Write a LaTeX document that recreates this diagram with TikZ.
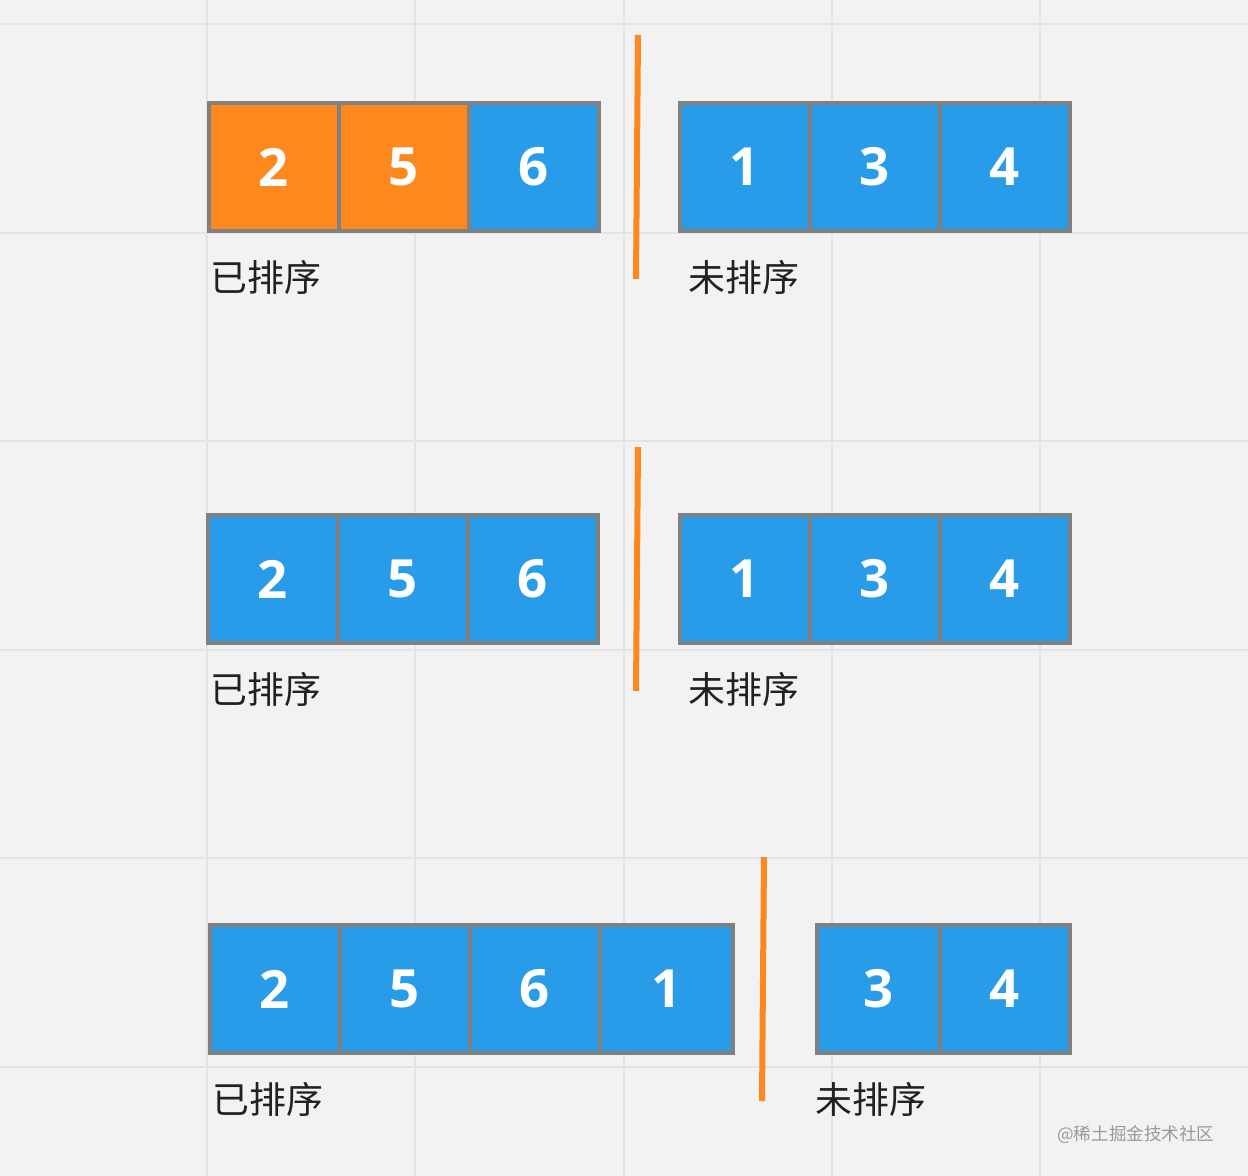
\documentclass[tikz,border=0pt]{standalone}
\usepackage{fontspec}
\setmainfont{Open Sans}
\newfontfamily\cjk{Noto Sans CJK SC}
\usetikzlibrary{positioning}
\definecolor{bgcol}{HTML}{F2F2F2}
\definecolor{gridcol}{HTML}{E4E4E4}
\definecolor{cellblue}{HTML}{289CE9}
\definecolor{cellorange}{HTML}{FD881E}
\definecolor{cellborder}{HTML}{808080}
\begin{document}
\begin{tikzpicture}[x=0.02cm, y=-0.02cm]
		%define block styles
		\tikzset{
			cell/.style={rectangle, minimum width=2.6cm, minimum height=2.56cm, inner sep=0pt, outer sep=0pt, draw=cellborder, line width=0.08cm, fill=cellblue, text=white, font=\fontsize{30}{30}\selectfont\bfseries},
			picked/.style={cell, fill=cellorange},
			tag/.style={anchor=west, inner sep=0pt, text=black!87, font=\cjk\fontsize{21}{21}\selectfont},
			divider/.style={draw=cellorange, line width=0.12cm},
			gridline/.style={draw=gridcol, line width=0.04cm},}
		%background and grid
		\fill[bgcol] (0,0) rectangle (1248,1176);
		\useasboundingbox (0,0) rectangle (1248,1176);
		\foreach \gx in {207,415,624,832,1040}
			\draw[gridline] (\gx,0) -- (\gx,1176);
		\foreach \gy in {24,233,441,650,858,1067}
			\draw[gridline] (0,\gy) -- (1248,\gy);
		%first row
		\node[picked, anchor=north west] (top2) at (209,103) {2};
		\node[picked, right=0pt of top2] (top5) {5};
		\node[cell, right=0pt of top5] (top6) {6};
		\node[cell, anchor=north west] (top1) at (680,103) {1};
		\node[cell, right=0pt of top1] (top3) {3};
		\node[cell, right=0pt of top3] (top4) {4};
		\node[tag] (topsorted) at (210,277) {已排序};
		\node[tag] (topunsorted) at (688,277) {未排序};
		\draw[divider] (638,35) -- (636,279);
		%second row
		\node[cell, anchor=north west] (mid2) at (208,515) {2};
		\node[cell, right=0pt of mid2] (mid5) {5};
		\node[cell, right=0pt of mid5] (mid6) {6};
		\node[cell, anchor=north west] (mid1) at (680,515) {1};
		\node[cell, right=0pt of mid1] (mid3) {3};
		\node[cell, right=0pt of mid3] (mid4) {4};
		\node[tag] (midsorted) at (210,689) {已排序};
		\node[tag] (midunsorted) at (688,689) {未排序};
		\draw[divider] (638,447) -- (636,691);
		%third row
		\node[cell, anchor=north west] (low2) at (210,925) {2};
		\node[cell, right=0pt of low2] (low5) {5};
		\node[cell, right=0pt of low5] (low6) {6};
		\node[cell, minimum width=2.66cm, right=0pt of low6] (low1) {1};
		\node[cell, minimum width=2.46cm, anchor=north west] (low3) at (817,925) {3};
		\node[cell, right=0pt of low3] (low4) {4};
		\node[tag] (lowsorted) at (212,1099) {已排序};
		\node[tag] (lowunsorted) at (815,1099) {未排序};
		\draw[divider] (764,857) -- (762,1101);
		%watermark
		\node[anchor=west, inner sep=0pt, text=black!40, font=\cjk\fontsize{10}{10}\selectfont] (mark) at (1057,1135) {@稀土掘金技术社区};
	\end{tikzpicture}
\end{document}
